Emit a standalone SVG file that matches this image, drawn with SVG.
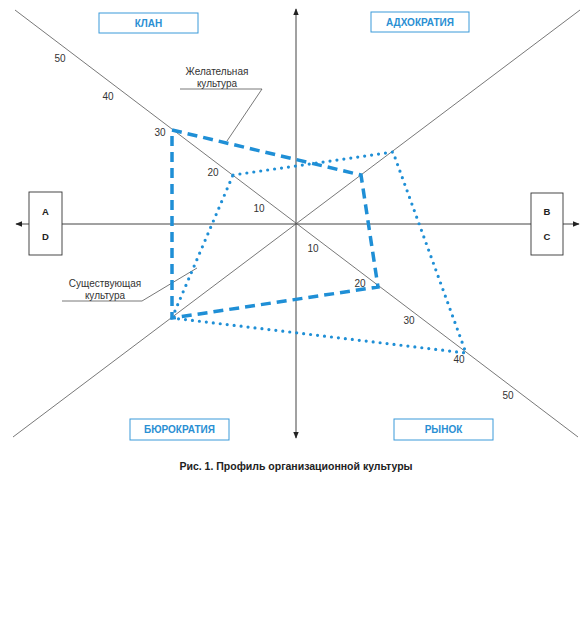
<svg xmlns="http://www.w3.org/2000/svg" width="582" height="625" viewBox="0 0 582 625">
<defs>
<marker id="arr" viewBox="0 0 10 10" refX="9" refY="5" markerWidth="7" markerHeight="7" markerUnits="userSpaceOnUse" orient="auto"><path d="M0,1 L10,5 L0,9 z" fill="#222"/></marker>
<style>
.ax{stroke:#444;stroke-width:1;fill:none}
.ln{stroke:#555;stroke-width:0.8;fill:none}
.lbl{font-family:"Liberation Sans",Arial,sans-serif;font-size:10px;fill:#333}
.tk{font-family:"Liberation Sans",Arial,sans-serif;font-size:10px;fill:#333;text-anchor:middle}
.qb{fill:#fff;stroke:#3a9ad9;stroke-width:1}
.qt{font-family:"Liberation Sans",Arial,sans-serif;font-size:10px;font-weight:bold;fill:#2a8fd3;text-anchor:middle}
.sb{fill:#fff;stroke:#333;stroke-width:0.9}
.st{font-family:"Liberation Sans",Arial,sans-serif;font-size:9.5px;font-weight:bold;fill:#222;text-anchor:middle}
.des{stroke:#1f8fd6;stroke-width:3.5;fill:none;stroke-dasharray:10 6}
.cur{stroke:#1f8fd6;stroke-width:3.2;fill:none;stroke-linecap:round;stroke-dasharray:0 7}
</style>
</defs>
<rect width="582" height="625" fill="#fff"/>
<g id="connectors">
<line class="ax" x1="296" y1="224" x2="296" y2="9" marker-end="url(#arr)"/>
<line class="ax" x1="296" y1="224" x2="296" y2="438" marker-end="url(#arr)"/>
<line class="ax" x1="296" y1="224" x2="16" y2="224" marker-end="url(#arr)"/>
<line class="ax" x1="296" y1="224" x2="579" y2="224" marker-end="url(#arr)"/>
<line class="ln" x1="15" y1="10" x2="578" y2="437"/>
<line class="ln" x1="13" y1="437" x2="580" y2="10"/>
<polyline class="ln" points="180,89 262,89 227,141"/>
<polyline class="ln" points="62,301 142,301 197,268"/>
</g>
<g id="desired-profile"><polygon class="des" points="172,130 361,175 378,287 172,318"/></g>
<g id="current-profile"><polygon class="cur" points="233,175 393,152 466,353 172,318"/></g>
<g id="ticks">
<text class="tk" x="60" y="62">50</text>
<text class="tk" x="108" y="100">40</text>
<text class="tk" x="160" y="136">30</text>
<text class="tk" x="213" y="176">20</text>
<text class="tk" x="259" y="212">10</text>
<text class="tk" x="313" y="252">10</text>
<text class="tk" x="360" y="287">20</text>
<text class="tk" x="409" y="324">30</text>
<text class="tk" x="459" y="363">40</text>
<text class="tk" x="508" y="399">50</text>
</g>
<g id="klan"><rect class="qb" x="99" y="13" width="99" height="20"/><text class="qt" x="148.5" y="27">КЛАН</text></g>
<g id="adhocracy"><rect class="qb" x="371" y="12" width="98" height="20"/><text class="qt" x="420" y="26">АДХОКРАТИЯ</text></g>
<g id="bureaucracy"><rect class="qb" x="130" y="419" width="99" height="21"/><text class="qt" x="179.5" y="433">БЮРОКРАТИЯ</text></g>
<g id="market"><rect class="qb" x="394" y="419" width="99" height="21"/><text class="qt" x="443.5" y="433">РЫНОК</text></g>
<g id="box-ad"><rect class="sb" x="29" y="192" width="33" height="63"/><text class="st" x="45.5" y="215">A</text><text class="st" x="45.5" y="240">D</text></g>
<g id="box-bc"><rect class="sb" x="531" y="193" width="32" height="62"/><text class="st" x="547" y="215">B</text><text class="st" x="547" y="240">C</text></g>
<g id="label-desired"><text class="lbl" x="217" y="75" text-anchor="middle">Желательная</text><text class="lbl" x="217" y="87" text-anchor="middle">культура</text></g>
<g id="label-current"><text class="lbl" x="105" y="287" text-anchor="middle">Существующая</text><text class="lbl" x="105" y="299" text-anchor="middle">культура</text></g>
<text x="296" y="470" text-anchor="middle" font-family="Liberation Sans, Arial, sans-serif" font-size="10.5" font-weight="bold" fill="#222">Рис. 1. Профиль организационной культуры</text>
</svg>
